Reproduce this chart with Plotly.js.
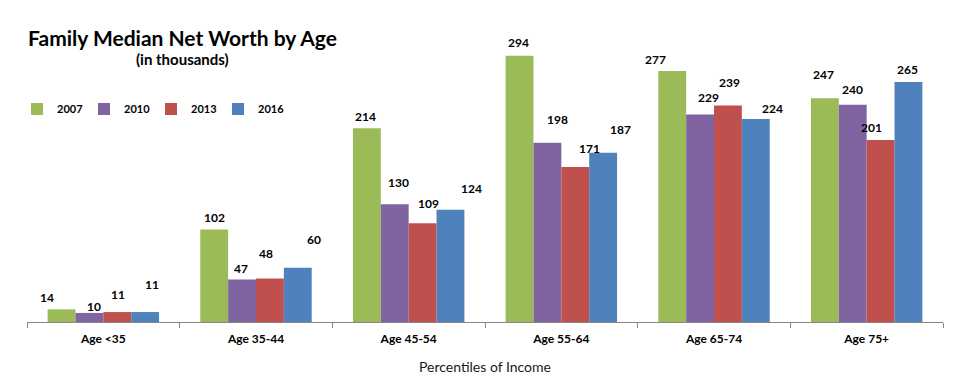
<!DOCTYPE html>
<html>
<head>
<meta charset="utf-8">
<script src="https://cdn.plot.ly/plotly-3.0.1.min.js"></script>
<style>html,body{margin:0;padding:0;background:#fff;}#chart{width:960px;height:380px;}</style>
</head>
<body>
<div id="chart"></div>
<script>
const categories = ['Age <35', 'Age 35-44', 'Age 45-54', 'Age 55-64', 'Age 65-74', 'Age 75+'];
const years = ['2007', '2010', '2013', '2016'];
const v2007 = [14, 102, 214, 294, 277, 247];
const v2010 = [10, 47, 130, 198, 229, 240];
const v2013 = [11, 48, 109, 171, 239, 201];
const v2016 = [11, 60, 124, 187, 224, 265];
const seriesValues = [v2007, v2010, v2013, v2016];

// style: colours and hand-nudged label offsets (pixels) as in the reference
const colors = ['#9BBB59', '#8064A2', '#C0504D', '#4F81BD'];
const nudgeX = [
  [-15, 0, -1, -1, -17, -1],
  [5, -1, 4, 10, 8, 0],
  [1, -4, 6, 14, 2, -9],
  [7, 16, 21, 17, 17, -1]
];
const nudgeY = [
  [12, 12, 12, 13, 12, 24],
  [6, 11, 22, 23, 17, 15],
  [18, 25, 20, 19, 23, 12],
  [28, 28, 21, 23, 11, 12]
];

const FONT = 'Lato, "Open Sans", sans-serif';
const bargap = 0.27;
const nSeries = years.length;
const barW = (1 - bargap) / nSeries;

const traces = years.map((yr, si) => ({
  type: 'bar',
  name: yr,
  x: categories,
  y: seriesValues[si],
  marker: {color: colors[si]},
  hoverinfo: 'x+y+name'
}));

const annotations = [];
seriesValues.forEach((vals, si) => {
  vals.forEach((v, ci) => {
    annotations.push({
      xref: 'x', yref: 'y',
      x: ci + (si - (nSeries - 1) / 2) * barW,
      y: v,
      text: String(v),
      showarrow: false,
      xanchor: 'center', yanchor: 'middle',
      xshift: nudgeX[si][ci], yshift: nudgeY[si][ci],
      font: {family: FONT, size: 12, color: '#000', weight: 'bold'}
    });
  });
});

annotations.push({
  xref: 'paper', yref: 'paper',
  x: (182 - 27) / 916, y: (322 - 37) / 317,
  xanchor: 'center', yanchor: 'middle', showarrow: false,
  text: 'Family Median Net Worth by Age',
  font: {family: FONT, size: 21, color: '#000', weight: 'bold'}
});
annotations.push({
  xref: 'paper', yref: 'paper',
  x: (182 - 27) / 916, y: (322 - 59) / 317,
  xanchor: 'center', yanchor: 'middle', showarrow: false,
  text: '(in thousands)',
  font: {family: FONT, size: 15, color: '#000', weight: 'bold'}
});

const layout = {
  width: 960, height: 380,
  margin: {l: 27, r: 17, t: 5, b: 58},
  paper_bgcolor: '#fff', plot_bgcolor: '#fff',
  barmode: 'group', bargap: bargap, bargroupgap: 0,
  showlegend: true,
  legend: {
    orientation: 'h',
    x: (17 - 27) / 916, xanchor: 'left',
    y: (322 - 109) / 317, yanchor: 'middle',
    entrywidth: 22, entrywidthmode: 'pixels',
    itemwidth: 30,
    font: {family: FONT, size: 11, color: '#000', weight: 'bold'},
    bgcolor: 'rgba(0,0,0,0)'
  },
  xaxis: {
    type: 'category',
    showline: true, linecolor: '#888', linewidth: 1,
    ticks: 'outside', tickson: 'boundaries', ticklen: 5, tickcolor: '#888',
    ticklabelstandoff: 6,
    tickfont: {family: FONT, size: 12, color: '#000', weight: 'bold'},
    showgrid: false, zeroline: false,
    title: {text: 'Percentiles of Income', font: {family: FONT, size: 14, color: '#1a1a1a'}, standoff: 16}
  },
  yaxis: {
    range: [0, 350], visible: false, showgrid: false, zeroline: false
  },
  annotations: annotations
};

Plotly.newPlot('chart', traces, layout, {displayModeBar: false, staticPlot: true});
</script>
</body>
</html>
